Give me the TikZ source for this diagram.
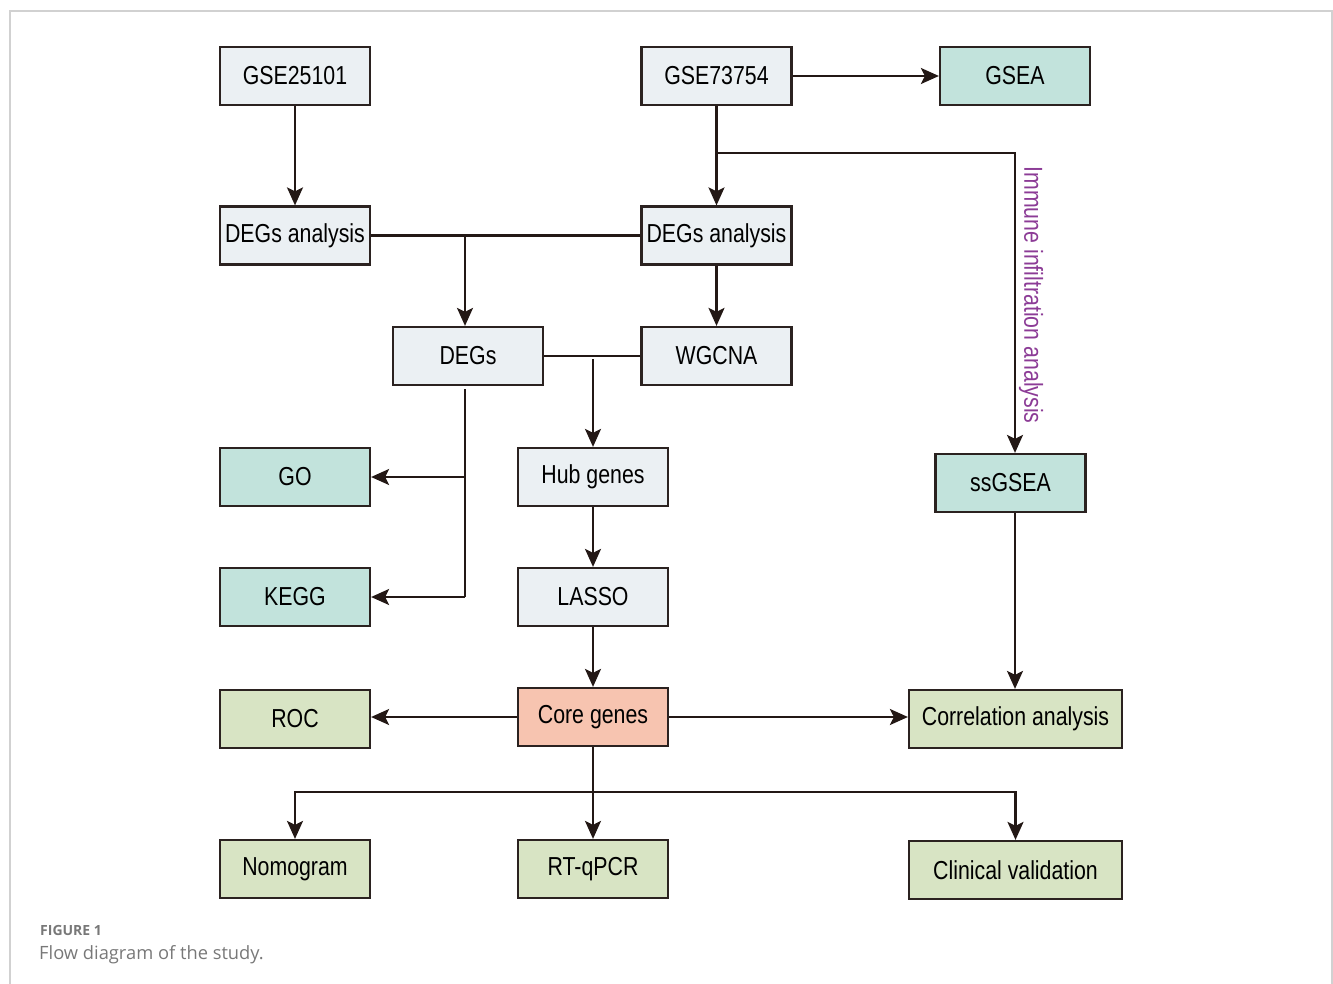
\documentclass[tikz,border=0pt]{standalone}
\usepackage{fontspec}
\setmainfont[FakeStretch=0.82]{Liberation Sans}
\newfontfamily\capfont{Open Sans}
\usetikzlibrary{arrows.meta}
\definecolor{lightfill}{RGB}{235,240,243}
\definecolor{tealfill}{RGB}{194,227,220}
\definecolor{greenfill}{RGB}{216,228,196}
\definecolor{salmonfill}{RGB}{247,196,176}
\definecolor{boxline}{RGB}{43,34,32}
\definecolor{conline}{RGB}{35,24,21}
\definecolor{purp}{RGB}{140,60,150}
\definecolor{capgray}{RGB}{120,120,120}
\tikzset{
  box/.style={draw=boxline, line width=2.2pt, minimum width=150pt, minimum height=58pt, inner sep=0pt,
    font=\fontsize{26}{26}\selectfont, text=black},
  wbox/.style={box, minimum width=213pt},
  lb/.style={box, fill=lightfill},
  tb/.style={box, fill=tealfill},
  gb/.style={box, fill=greenfill},
  sb/.style={box, fill=salmonfill},
  con/.style={draw=conline, line width=2.3pt},
  arr/.style={con, -{Stealth[length=18pt,width=16pt,inset=4pt]}},
}
\begin{document}
\begin{tikzpicture}[x=1pt,y=-1pt]
\useasboundingbox (0,0) rectangle (1333,984);
\clip (0,0) rectangle (1333,984);
\draw[black!18, line width=1.5pt] (10,1000) -- (10,11) -- (1332,11) -- (1332,1000);

\node[lb] (g1) at (295,76) {GSE25101};
\node[lb] (g2) at (716.5,76) {GSE73754};
\node[tb] (gsea) at (1015,76) {GSEA};
\node[lb] (da1) at (295,235.5) {DEGs analysis};
\node[lb] (da2) at (716.5,235.5) {DEGs analysis};
\node[lb] (degs) at (468,356) {DEGs};
\node[lb] (wgcna) at (716.5,356) {WGCNA};
\node[tb] (go) at (295,477) {GO};
\node[lb] (hub) at (593,477) {Hub genes};
\node[tb] (ssgsea) at (1010.5,483) {ssGSEA};
\node[tb] (kegg) at (295,597) {KEGG};
\node[lb] (lasso) at (593,597) {LASSO};
\node[sb] (core) at (593,717) {Core genes};
\node[gb] (roc) at (295,719) {ROC};
\node[gb, wbox] (corr) at (1015.5,719) {Correlation analysis};
\node[gb] (nomo) at (295,869) {Nomogram};
\node[gb] (rtq) at (593,869) {RT-qPCR};
\node[gb, wbox] (clin) at (1015.5,870) {Clinical validation};

\draw[arr] (g1) -- (da1);
\draw[arr] (g2) -- (gsea);
\draw[arr] (g2) -- (da2);
\coordinate (br1) at (716.5,153);
\coordinate (ic) at (1015,153);
\draw[arr] (br1) -- (ic) -- (ic |- ssgsea.north);
\node[rotate=-90, text=purp, font=\fontsize{26}{26}\selectfont, inner sep=0pt] (imm) at (1031,295) {Immune infiltration analysis};

\draw[con] (da1) -- (da2);
\coordinate (j1) at (465,235.5);
\draw[arr] (j1) -- (j1 |- degs.north);
\draw[arr] (da2) -- (wgcna);
\draw[con] (degs) -- (wgcna);
\coordinate (j2) at (593,359);
\draw[arr] (j2) -- (hub);

\coordinate (j3) at (465,389);
\coordinate (gj) at (465,477);
\coordinate (kj) at (465,597);
\draw[con] (j3) -- (kj);
\draw[arr] (gj) -- (go);
\draw[arr] (kj) -- (kegg);

\draw[arr] (hub) -- (lasso);
\draw[arr] (lasso) -- (core);
\draw[arr] (core.west) -- (core.west -| roc.east);
\draw[arr] (core.east) -- (core.east -| corr.west);
\draw[arr] (ssgsea.south -| ic) -- (corr.north -| ic);

\coordinate (bj) at (593,792);
\draw[con] (core) -- (bj);
\draw[arr] (bj) -| (nomo);
\draw[arr] (bj) -- (rtq);
\draw[arr] (bj) -| (clin);

\node[anchor=base west, inner sep=0pt, text=capgray, font=\capfont\bfseries\fontsize{14}{14}\selectfont] (fig) at (40,935) {FIGURE 1};
\node[anchor=base west, inner sep=0pt, text=capgray, font=\capfont\fontsize{18.3}{18}\selectfont] (cap) at (39,959) {Flow diagram of the study.};
\end{tikzpicture}
\end{document}
